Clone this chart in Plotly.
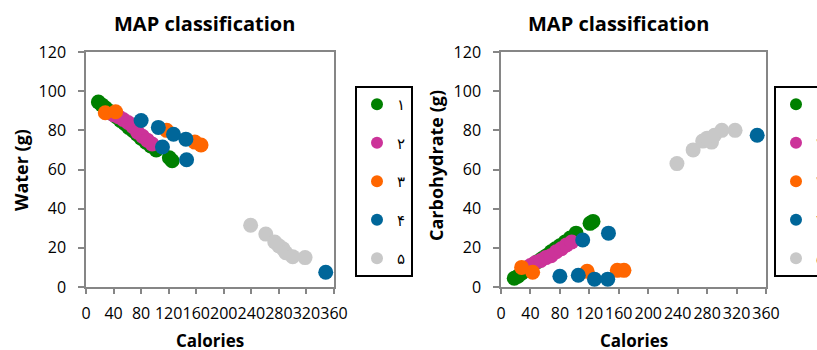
import plotly.graph_objects as go

# ---------------- data ----------------
class_names = ["۱", "۲", "۳", "۴", "۵"]
class_colors = ["#008000", "#CC3399", "#FF6600", "#006699", "#C8C8C8"]

cal_1 = [18, 23, 28, 33, 38, 44, 50, 56, 62, 68, 74, 80, 87, 94, 102, 121, 125]
water_1 = [94.5, 93, 91.5, 90, 88.5, 87, 85, 83.5, 81.5, 80, 78, 76, 74, 72, 70, 66, 64.5]
carb_1 = [4.5, 5.5, 7, 8.5, 10, 11.5, 13, 14.5, 16, 18, 19.5, 21, 23, 25, 27.5, 32.5, 33.5]

cal_2 = [40, 47, 54, 61, 68, 75, 82, 89, 96]
water_2 = [88, 87, 85.5, 84, 82, 79, 77, 75, 73]
carb_2 = [11, 12.5, 13.5, 15, 16, 18, 19.5, 21.5, 23]

cal_3 = [28, 43, 117, 158, 167]
water_3 = [89, 89.5, 80, 74, 72.5]
carb_3 = [10, 7.5, 8, 8.5, 8.5]

cal_4 = [80, 105, 127, 145, 111, 146, 348]
water_4 = [85, 81.5, 78, 75.5, 71.5, 65, 7.5]
carb_4 = [5.5, 6, 4, 4, 24, 27.5, 77.5]

cal_5 = [239, 261, 274, 280, 286, 290, 300, 318]
water_5 = [31.5, 27, 23, 21, 19.5, 17.5, 15.5, 15]
carb_5 = [63, 70, 74.5, 76, 74, 77.5, 80, 80]

calories = [cal_1, cal_2, cal_3, cal_4, cal_5]
water = [water_1, water_2, water_3, water_4, water_5]
carbs = [carb_1, carb_2, carb_3, carb_4, carb_5]

x_ticks = [0, 40, 80, 120, 160, 200, 240, 280, 320, 360]
y_ticks = [0, 20, 40, 60, 80, 100, 120]

title_text = "MAP classification"
x_title = "Calories"
y_titles = ["Water (g)", "Carbohydrate (g)"]

# ---------------- figure ----------------
W, H = 817, 350
FONT = "Open Sans, DejaVu Sans, sans-serif"
AX = "#868686"

fig = go.Figure()

for i in range(5):
    fig.add_trace(go.Scatter(
        x=calories[i], y=water[i], mode="markers", name=class_names[i],
        marker=dict(size=15, color=class_colors[i]),
        xaxis="x", yaxis="y", legend="legend", legendgroup="a%d" % i,
    ))
for i in range(5):
    fig.add_trace(go.Scatter(
        x=calories[i], y=carbs[i], mode="markers", name=class_names[i],
        marker=dict(size=15, color=class_colors[i]),
        xaxis="x2", yaxis="y2", legend="legend2", legendgroup="b%d" % i,
    ))

px = lambda p: p / W
py = lambda p: 1 - p / H

xd1 = [px(86), px(334)]
xd2 = [px(501), px(766)]
yd = [py(287), py(52)]

def xaxis(domain, anchor, overlay=None, inside=False):
    d = dict(domain=domain, anchor=anchor, range=[0, 360], tickmode="array",
             tickvals=x_ticks, ticktext=[str(v) for v in x_ticks],
             showgrid=False, zeroline=False, tickangle=0,
             ticks="inside" if inside else "outside", ticklen=4 if inside else 5,
             tickwidth=1.5, tickcolor=AX, fixedrange=True, ticklabelstandoff=6,
             tickfont=dict(family=FONT, size=16, color="#000000"))
    if overlay:
        d.update(overlaying=overlay, showline=False, showticklabels=False)
    else:
        d.update(showline=True, linecolor=AX, linewidth=1.5, mirror=True)
    return d

def yaxis(domain, anchor, overlay=None, inside=False):
    d = dict(domain=domain, anchor=anchor, range=[0, 120], tickmode="array",
             tickvals=y_ticks, ticktext=[str(v) for v in y_ticks],
             showgrid=False, zeroline=False,
             ticks="inside" if inside else "outside", ticklen=4 if inside else 6,
             tickwidth=1.5, tickcolor=AX, fixedrange=True, ticklabelstandoff=9,
             tickfont=dict(family=FONT, size=16, color="#000000"))
    if overlay:
        d.update(overlaying=overlay, showline=False, showticklabels=False)
    else:
        d.update(showline=True, linecolor=AX, linewidth=1.5, mirror=True)
    return d

legend_common = dict(
    xanchor="left", yanchor="top", bgcolor="rgba(255,255,255,0)",
    bordercolor="#000000", borderwidth=2, tracegroupgap=16,
    itemsizing="constant", font=dict(family=FONT, size=15, color="#000000"),
)

fig.update_layout(
    width=W, height=H, margin=dict(l=0, r=0, t=0, b=0, autoexpand=False),
    paper_bgcolor="white", plot_bgcolor="white",
    xaxis=xaxis(xd1, "y"), yaxis=yaxis(yd, "x"),
    xaxis2=xaxis(xd2, "y2"), yaxis2=yaxis(yd, "x2"),
    xaxis3=xaxis(xd1, "y", overlay="x", inside=True),
    yaxis3=yaxis(yd, "x", overlay="y", inside=True),
    xaxis4=xaxis(xd2, "y2", overlay="x2", inside=True),
    yaxis4=yaxis(yd, "x2", overlay="y2", inside=True),
    legend=dict(x=px(355), y=py(86), **legend_common),
    legend2=dict(x=px(774), y=py(86), **legend_common),
    showlegend=True,
)

ann = []
for xc in [204, 618]:
    ann.append(dict(text="<b>%s</b>" % title_text, x=px(xc), y=py(23), xref="paper", yref="paper",
                    showarrow=False, xanchor="center", yanchor="middle",
                    font=dict(family=FONT, size=20, color="#000000")))
for xc in [210, 634]:
    ann.append(dict(text="<b>%s</b>" % x_title, x=px(xc), y=py(340), xref="paper", yref="paper",
                    showarrow=False, xanchor="center", yanchor="middle",
                    font=dict(family=FONT, size=17, color="#000000")))
for xc, yc, t in zip([21, 436], [170, 166], y_titles):
    ann.append(dict(text="<b>%s</b>" % t, x=px(xc), y=py(yc), xref="paper", yref="paper",
                    showarrow=False, xanchor="center", yanchor="middle", textangle=-90,
                    font=dict(family=FONT, size=18, color="#000000")))
fig.update_layout(annotations=ann)

fig.write_html("out.html", config={"displayModeBar": False},
               post_script="document.body.style.margin='0px';")
